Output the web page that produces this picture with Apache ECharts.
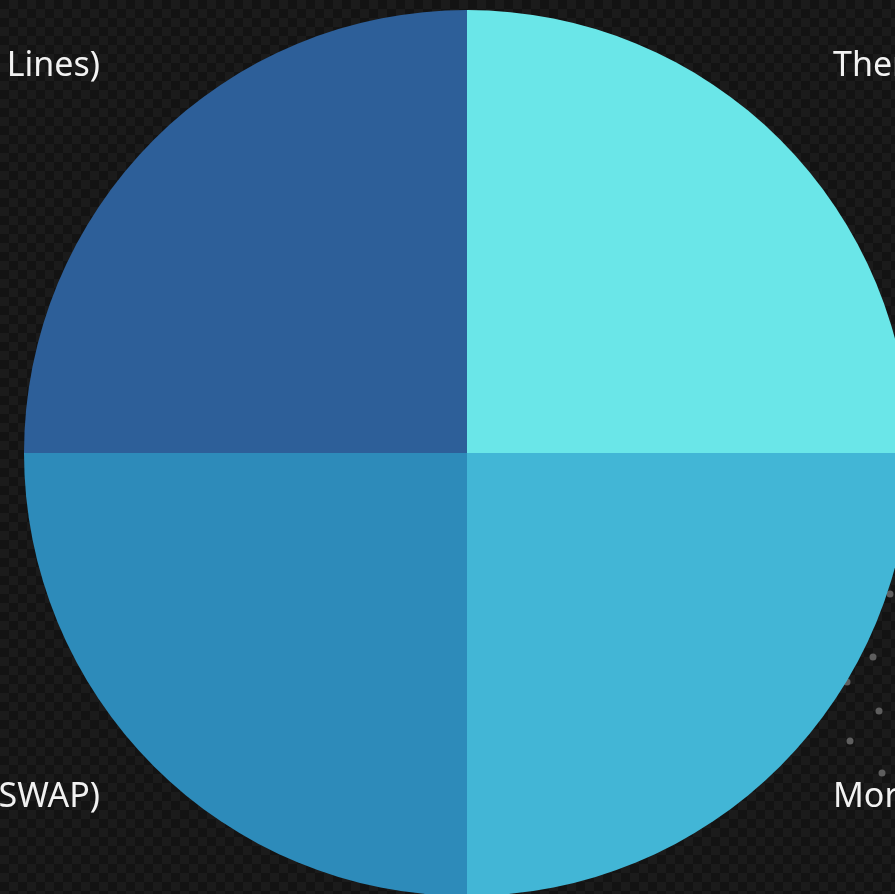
<!DOCTYPE html>
<html>
<head>
<meta charset="utf-8">
<script src="https://cdn.jsdelivr.net/npm/echarts@6/dist/echarts.min.js"></script>
<style>
html,body{margin:0;padding:0;}
body{background:repeating-conic-gradient(#1b1b1b 0 25%, #131313 0 50%) 0 0/18px 18px;}
#chart{width:895px;height:894px;}
</style>
</head>
<body>
<div id="chart"></div>
<script>
// Data
const categories = ["Thematic Bonds", "Mortgage Loans", "Interest Rate Swaps (SWAP)", "Committed Facilities (Credit Lines)"];
const values = [25, 25, 25, 25];
const colors = ["#6ae6e8", "#42b6d6", "#2d8bba", "#2d5f99"];

const cx = 467, cy = 453, R = 443;
const chart = echarts.init(document.getElementById('chart'), null, {renderer: 'canvas'});

const dots = [[890,594],[873,657],[847,682],[879,711],[850,741],[882,773]];

chart.setOption({
  backgroundColor: 'transparent',
  animation: false,
  graphic: dots.map(d => ({
    type: 'circle', shape: {cx: d[0], cy: d[1], r: 3.5}, style: {fill: '#5e5e5e'}, z: -1
  })),
  series: [{
    type: 'pie',
    center: [cx, cy],
    radius: [0, R],
    startAngle: 90,
    clockwise: true,
    z: 2,
    avoidLabelOverlap: false,
    itemStyle: {borderWidth: 0},
    label: {
      show: true,
      position: 'outside',
      color: '#f2f2f2',
      fontSize: 34,
      overflow: 'none',
      width: 1000,
      fontFamily: '"Noto Sans", "Open Sans", sans-serif'
    },
    labelLine: {show: false},
    labelLayout: function (p) {
      const i = p.dataIndex;
      const right = (i === 0 || i === 1);
      const top = (i === 0 || i === 3);
      return {
        x: right ? cx + 366 : cx - 367,
        y: top ? cy - 387 : cy + 344,
        align: right ? 'left' : 'right',
        verticalAlign: 'middle'
      };
    },
    data: categories.map((c, i) => ({name: c, value: values[i], itemStyle: {color: colors[i]}}))
  }]
});
</script>
</body>
</html>
